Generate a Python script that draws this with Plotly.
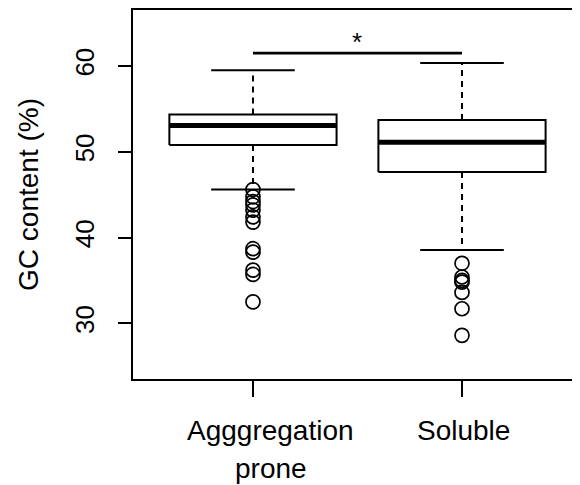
import plotly.graph_objects as go

# ---- data ----
positions = [1, 2]
categories = ["Agggregation<br>prone", "Soluble"]
q1 = [50.8, 47.65]
median = [53.05, 51.1]
q3 = [54.35, 53.7]
lower_whisker = [45.6, 38.55]
upper_whisker = [59.5, 60.35]
outliers = [
    [45.6, 44.75, 44.2, 43.8, 43.2, 42.4, 41.8, 38.7, 38.3, 36.2, 35.7, 32.5],
    [37.0, 35.4, 35.0, 34.8, 33.6, 31.7, 28.6],
]
sig_level = 61.5
sig_label = "*"
y_ticks = [30, 40, 50, 60]

# ---- style ----
BOX_HALF = 0.4
CAP_HALF = 0.2
FONT = "Liberation Sans, Arial, sans-serif"
LW = 2

fig = go.Figure()

for i, p in enumerate(positions):
    # whiskers (dashed)
    fig.add_trace(go.Scatter(x=[p, p, None, p, p], y=[q3[i], upper_whisker[i], None, q1[i], lower_whisker[i]],
                             mode="lines", line=dict(color="black", width=LW, dash="6px,5px"),
                             hoverinfo="skip", showlegend=False))
    # caps
    fig.add_trace(go.Scatter(x=[p - CAP_HALF, p + CAP_HALF, None, p - CAP_HALF, p + CAP_HALF],
                             y=[upper_whisker[i], upper_whisker[i], None, lower_whisker[i], lower_whisker[i]],
                             mode="lines", line=dict(color="black", width=LW),
                             hoverinfo="skip", showlegend=False))
    # box
    fig.add_trace(go.Scatter(x=[p - BOX_HALF, p + BOX_HALF, p + BOX_HALF, p - BOX_HALF, p - BOX_HALF],
                             y=[q1[i], q1[i], q3[i], q3[i], q1[i]],
                             mode="lines", fill="toself", fillcolor="white",
                             line=dict(color="black", width=LW),
                             hoverinfo="skip", showlegend=False))
    # median
    fig.add_trace(go.Scatter(x=[p - BOX_HALF, p + BOX_HALF], y=[median[i], median[i]],
                             mode="lines", line=dict(color="black", width=5),
                             hoverinfo="skip", showlegend=False))
    # outliers
    fig.add_trace(go.Scatter(x=[p] * len(outliers[i]), y=outliers[i], mode="markers",
                             marker=dict(symbol="circle-open", size=14, color="black", line=dict(width=1.7)),
                             showlegend=False))

# significance bar
fig.add_trace(go.Scatter(x=[positions[0], positions[1]], y=[sig_level, sig_level], mode="lines",
                         line=dict(color="black", width=2.6), hoverinfo="skip", showlegend=False))
fig.add_annotation(x=(positions[0] + positions[1]) / 2, y=sig_level, text=sig_label, showarrow=False,
                   yanchor="bottom", yshift=-6, font=dict(family=FONT, size=26, color="black"))

# category labels (one annotation per text line)
for p, c, dx in zip(positions, categories, [18, 2]):
    for k, line in enumerate(c.split("<br>")):
        fig.add_annotation(x=p, y=0, xref="x", yref="paper", text=line, showarrow=False,
                           yanchor="top", yshift=-34 - 38 * k, xshift=dx,
                           font=dict(family=FONT, size=28, color="black"))

# the page body adds an 8px offset; size/margins compensate so the plot box lands at 133..578 x 10..379
fig.update_layout(
    width=572, height=477,
    margin=dict(l=125, r=2, t=2, b=106),
    paper_bgcolor="white", plot_bgcolor="white",
    font=dict(family=FONT, color="black"),
)
fig.update_xaxes(range=[0.426, 2.555], tickvals=positions, ticktext=["", ""], showgrid=False, zeroline=False,
                 showline=True, mirror=True, linecolor="black", linewidth=LW, automargin=False,
                 ticks="outside", ticklen=16, tickwidth=LW, tickcolor="black")
fig.update_yaxes(range=[23.51, 66.53], tickvals=y_ticks, showgrid=False, zeroline=False,
                 showline=True, mirror=True, linecolor="black", linewidth=LW, automargin=False,
                 ticks="outside", ticklen=13, tickwidth=LW, tickcolor="black",
                 tickangle=-90, tickfont=dict(size=26, family=FONT), ticklabelstandoff=14,
                 title=dict(text="GC content (%)", font=dict(size=28, family=FONT), standoff=23))

fig.write_html("out.html")
